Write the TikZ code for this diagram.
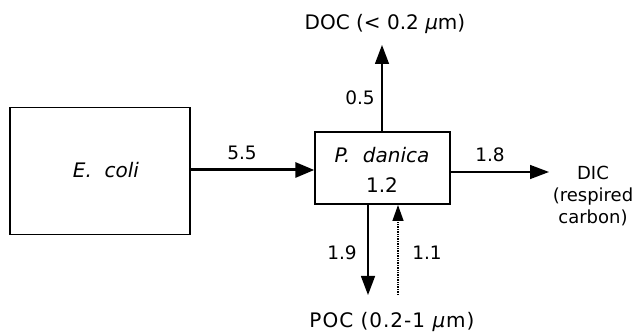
\documentclass[tikz,border=0pt]{standalone}
\usepackage{fontspec}
\setmainfont{DejaVu Sans}
\usetikzlibrary{arrows.meta}
\begin{document}
\begin{tikzpicture}[x=1pt,y=-1pt,
  every node/.style={font=\fontsize{20}{22}\selectfont, inner sep=0pt},
  box/.style={draw, line width=1.4pt},
  flow/.style={line width=1.4pt, -{Triangle[length=19pt,width=14pt]}},
  thick flow/.style={line width=3pt, -{Triangle[length=19pt,width=15pt]}},
  dotflow/.style={line width=1.4pt, densely dotted, -{Triangle[length=16pt,width=11pt]}},
  lbl/.style={font=\fontsize{18.5}{22}\selectfont}]
\useasboundingbox (0,0) rectangle (634,336);
% organism boxes
\node[box, minimum width=180pt, minimum height=127pt] (ecoli) at (100,171) {};
\node (ename) at (106,170) {\itshape E.\ \ coli};
\node[box, minimum width=135pt, minimum height=72pt] (pdan) at (382.5,168) {};
\node (pname) at (382,155) {\itshape P.\ \ danica};
\node (pval) at (382,185) {1.2};
% pool labels
\node (doc) at (385,24) {DOC (< 0.2 \textit{μ}m)};
\node (poc) at (392,322) {\addfontfeatures{LetterSpace=5}POC (0.2-1 \textit{μ}m)};
\node[align=center, font=\fontsize{18}{22}\selectfont] (dic) at (593,196) {DIC\\(respired\\carbon)};
% flow end points
\coordinate (ein) at (pdan.west |- 0,170);
\coordinate (eout) at (ecoli.east |- 0,170);
\coordinate (docend) at (382,45);
\coordinate (dicend) at (549,172);
\coordinate (pocend) at (368,295);
\coordinate (recstart) at (398,295);
\coordinate (rectop) at (398,205);
% flows
\draw[thick flow] (eout) -- (ein);
\node[lbl] (l55) at (242,153) {5.5};
\draw[flow] (pdan.north -| docend) -- (docend);
\node[lbl] (l05) at (360,98) {0.5};
\draw[flow] (pdan.east |- dicend) -- (dicend);
\node[lbl] (l18) at (490,155) {1.8};
\draw[flow] (pdan.south -| pocend) -- (pocend);
\node[lbl] (l19) at (342,253) {1.9};
\draw[dotflow] (recstart) -- (rectop);
\node[lbl] (l11) at (427,253) {1.1};
\end{tikzpicture}
\end{document}
